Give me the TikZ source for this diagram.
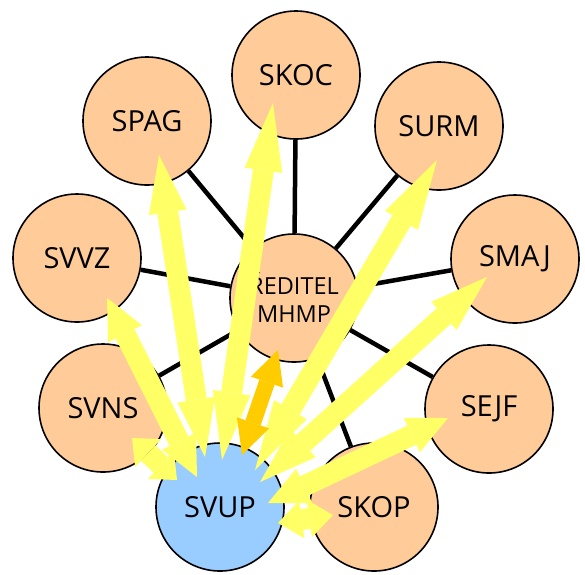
\documentclass[tikz,border=0pt]{standalone}
\usepackage{fontspec}
\setmainfont{Open Sans}
\usepackage{tikz}
\usepackage{xcolor}
\usetikzlibrary{arrows.meta,calc}
\definecolor{unitfill}{HTML}{FFCC99}
\definecolor{homefill}{HTML}{99CCFF}
\definecolor{linkyellow}{HTML}{FFFF66}
\definecolor{linkorange}{HTML}{FFCC00}
\tikzset{
    unit-circle/.style = {circle, draw=black, line width=1.6pt, fill=unitfill, minimum size=128pt, inner sep=0pt, font=\fontsize{29}{33}\selectfont},
    boss-circle/.style = {unit-circle, align=center, font=\fontsize{23.5}{28}\selectfont},
    home-circle/.style = {unit-circle, fill=homefill},
    spoke-line/.style = {draw=black, line width=4.5pt},
    link-arrow/.style = {draw=linkyellow, line width=21pt, {Triangle[width=38pt,length=#1,line width=0pt]}-{Triangle[width=38pt,length=#1,line width=0pt]}},
    boss-arrow/.style = {draw=linkorange, line width=16pt, {Triangle[width=34pt,length=#1,line width=0pt]}-{Triangle[width=34pt,length=#1,line width=0pt]}},
}

\begin{document}
\begin{tikzpicture}[x=1pt, y=-1pt]
\useasboundingbox (0,0) rectangle (585,574);
\node [boss-circle] (boss) at (294,298) {ŘEDITEL\\MHMP};
\node [unit-circle] (skoc) at (296,75) {SKOC};
\node [unit-circle] (spag) at (147,121) {SPAG};
\node [unit-circle] (surm) at (439,126) {SURM};
\node [unit-circle] (svvz) at (77,258) {SVVZ};
\node [unit-circle] (smaj) at (515,259) {SMAJ};
\node [unit-circle] (svns) at (103,408) {SVNS};
\node [unit-circle] (sejf) at (489,409) {SEJF};
\node [unit-circle] (skop) at (374,507) {SKOP};
\node [home-circle] (svup) at (220,507) {SVUP};

\foreach \unit in {skoc,spag,surm,svvz,smaj,svns,sejf,skop}
    \draw [spoke-line] (boss) -- (\unit);

\draw [link-arrow=22pt] ($(svup)+(-43,-27)$) -- ($(svns)+(29,30)$);
\draw [link-arrow=40pt] ($(svup)+(-23,-30)$) -- ($(svvz)+(30,40)$);
\draw [link-arrow=58pt] ($(svup)+(-15,-50)$) -- ($(spag)+(12,34)$);
\draw [link-arrow=68pt] ($(svup)+(2,-47)$) -- ($(skoc)+(-23,28)$);
\draw [link-arrow=70pt] ($(svup)+(35,-37)$) -- ($(surm)+(-2,34)$);
\draw [link-arrow=58pt] ($(svup)+(40,-25)$) -- ($(smaj)+(-28,18)$);
\draw [link-arrow=40pt] ($(svup)+(48,-4)$) -- ($(sejf)+(-41,9)$);
\draw [link-arrow=24pt] ($(svup)+(58,16)$) -- ($(skop)+(-41,8)$);
\draw [boss-arrow=34pt] ($(svup)+(22,-52)$) -- ($(boss)+(-16,52)$);
\end{tikzpicture}
\end{document}
